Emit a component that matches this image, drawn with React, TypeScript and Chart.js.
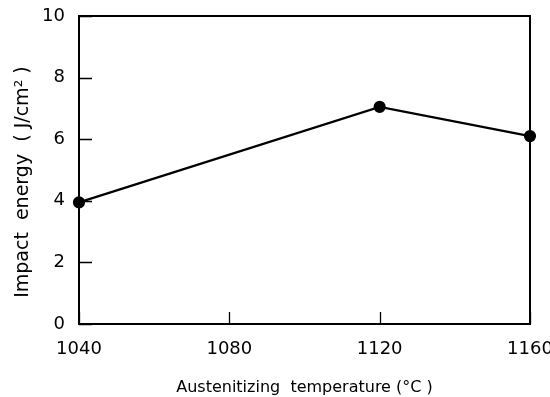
import React, { useEffect, useRef } from "react";
import { Chart, registerables } from "chart.js";

Chart.register(...registerables);

const temperatures = [1040, 1120, 1160];
const impactEnergy = [3.95, 7.05, 6.1];
const xTicks = [1040, 1080, 1120, 1160];
const yTicks = [0, 2, 4, 6, 8, 10];
const xTitle = "Austenitizing  temperature (°C )";
const yTitle = "Impact  energy  ( J/cm² )    ";

const FONT = "'DejaVu Sans', sans-serif";

const framePlugin = {
  id: "frameTicks",
  afterDraw(chart: any) {
    const { ctx, chartArea } = chart;
    const xs = chart.scales.x;
    const ys = chart.scales.y;
    ctx.save();
    ctx.strokeStyle = "#000";
    ctx.lineWidth = 2;
    ctx.strokeRect(chartArea.left, chartArea.top, chartArea.right - chartArea.left, chartArea.bottom - chartArea.top);
    ctx.lineWidth = 1.3;
    ctx.beginPath();
    for (const v of yTicks) {
      const y = Math.round(ys.getPixelForValue(v)) + 0.5;
      ctx.moveTo(chartArea.left, y);
      ctx.lineTo(chartArea.left + 13, y);
    }
    for (const v of xTicks) {
      const x = Math.round(xs.getPixelForValue(v)) + 0.5;
      ctx.moveTo(x, chartArea.bottom);
      ctx.lineTo(x, chartArea.bottom - 12);
    }
    ctx.stroke();
    ctx.restore();
  },
};

export default function App() {
  const ref = useRef<HTMLCanvasElement>(null);
  useEffect(() => {
    document.body.style.margin = "0";
    const chart = new Chart(ref.current!, {
      type: "line",
      data: {
        datasets: [
          {
            data: temperatures.map((t, i) => ({ x: t, y: impactEnergy[i] })),
            borderColor: "#000",
            backgroundColor: "#000",
            borderWidth: 2.2,
            pointRadius: 5,
            pointBackgroundColor: "#000",
            pointBorderColor: "#000",
            tension: 0,
            clip: false,
          },
        ],
      },
      options: {
        responsive: false,
        animation: false,
        layout: { padding: { top: 16, right: 20, left: 0, bottom: 0 } },
        plugins: { legend: { display: false }, tooltip: { enabled: false } },
        scales: {
          x: {
            type: "linear",
            min: 1040,
            max: 1160,
            afterBuildTicks: (s: any) => {
              s.ticks = xTicks.map((v) => ({ value: v }));
            },
            afterFit: (s: any) => {
              s.height = 73;
              s.paddingLeft = 0;
              s.paddingRight = 0;
            },
            grid: { display: false, drawTicks: false },
            border: { display: false },
            ticks: {
              color: "#000",
              font: { family: FONT, size: 18 },
              padding: 15,
              maxRotation: 0,
              autoSkip: false,
              callback: (v: any) => String(v),
            },
            title: {
              display: true,
              text: xTitle,
              color: "#000",
              font: { family: FONT, size: 16 },
              padding: { top: 8, bottom: 0 },
            },
          },
          y: {
            min: 0,
            max: 10,
            afterBuildTicks: (s: any) => {
              s.ticks = yTicks.map((v) => ({ value: v }));
            },
            afterFit: (s: any) => {
              s.width = 79;
              s.paddingTop = 0;
              s.paddingBottom = 0;
            },
            grid: { display: false, drawTicks: false },
            border: { display: false },
            ticks: {
              color: "#000",
              font: { family: FONT, size: 18 },
              padding: 14,
              callback: (v: any) => String(v),
            },
            title: {
              display: true,
              text: yTitle,
              color: "#000",
              font: { family: FONT, size: 19 },
              padding: { top: 12, bottom: 4 },
            },
          },
        },
      },
      plugins: [framePlugin],
    } as any);
    return () => chart.destroy();
  }, []);
  return (
    <div style={{ position: "absolute", left: 0, top: 0, width: 550, height: 397 }}>
      <canvas ref={ref} width={550} height={397} />
    </div>
  );
}
